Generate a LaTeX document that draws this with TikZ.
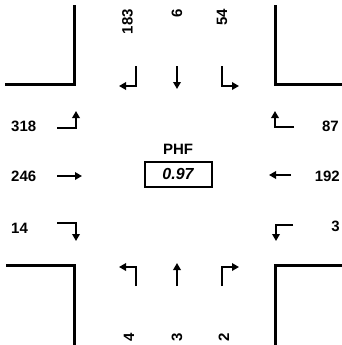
\documentclass[tikz,border=0pt]{standalone}
\usepackage{fontspec}
\setmainfont{Liberation Sans}
\usetikzlibrary{arrows.meta}
\begin{document}
\begin{tikzpicture}[x=1pt,y=-1pt,
  curb/.style={line width=3pt,line cap=rect,line join=miter},
  mv/.style={line width=2.1pt,-{Triangle[length=7pt,width=7.5pt]}},
  lbl/.style={inner sep=0pt,font=\fontsize{15}{18}\selectfont\bfseries},
  vlbl/.style={lbl,rotate=90}]
\useasboundingbox (0,0) rectangle (341,345);
% curbs
\draw[curb] (6,84) -- (74,84) -- (74,7);
\draw[curb] (275,7) -- (275,84) -- (341,84);
\draw[curb] (7,265) -- (74,265) -- (74,345);
\draw[curb] (341,265) -- (275,265) -- (275,345);
% top labels
\node[vlbl,anchor=east] (n183) at (127.5,9) {183};
\node[vlbl,anchor=east] (n6) at (177,9) {6};
\node[vlbl,anchor=east] (n54) at (222,9) {54};
% bottom labels
\node[vlbl] (s4) at (129,337) {4};
\node[vlbl] (s3) at (177,337) {3};
\node[vlbl] (s2) at (224,337) {2};
% left labels
\node[lbl,anchor=west] (e318) at (11,126) {318};
\node[lbl,anchor=west] (e246) at (11,176) {246};
\node[lbl,anchor=west] (e14) at (11,228) {14};
% right labels
\node[lbl,anchor=east] (w87) at (339,126) {87};
\node[lbl,anchor=east] (w192) at (340,176) {192};
\node[lbl,anchor=east] (w3) at (340,226) {3};
% PHF
\node[lbl] (phf) at (178,149) {PHF};
\draw[line width=1.4pt] (145,162) rectangle (212,187);
\node[lbl,font=\fontsize{16}{18}\selectfont\bfseries\itshape] (phfv) at (178,174) {0.97};
% top movement arrows
\draw[mv] (136,66) -- (136,86) -- (119,86);
\draw[mv] (177,66) -- (177,89);
\draw[mv] (222,66) -- (222,86) -- (239,86);
% bottom movement arrows
\draw[mv] (136,286) -- (136,267) -- (119,267);
\draw[mv] (177,286) -- (177,263);
\draw[mv] (222,286) -- (222,267) -- (239,267);
% left movement arrows
\draw[mv] (57,128) -- (76,128) -- (76,111);
\draw[mv] (57,176) -- (82,176);
\draw[mv] (57,223) -- (76,223) -- (76,241);
% right movement arrows
\draw[mv] (294,127) -- (275,127) -- (275,111);
\draw[mv] (291,175) -- (269,175);
\draw[mv] (293,225) -- (276,225) -- (276,241);
\end{tikzpicture}
\end{document}
